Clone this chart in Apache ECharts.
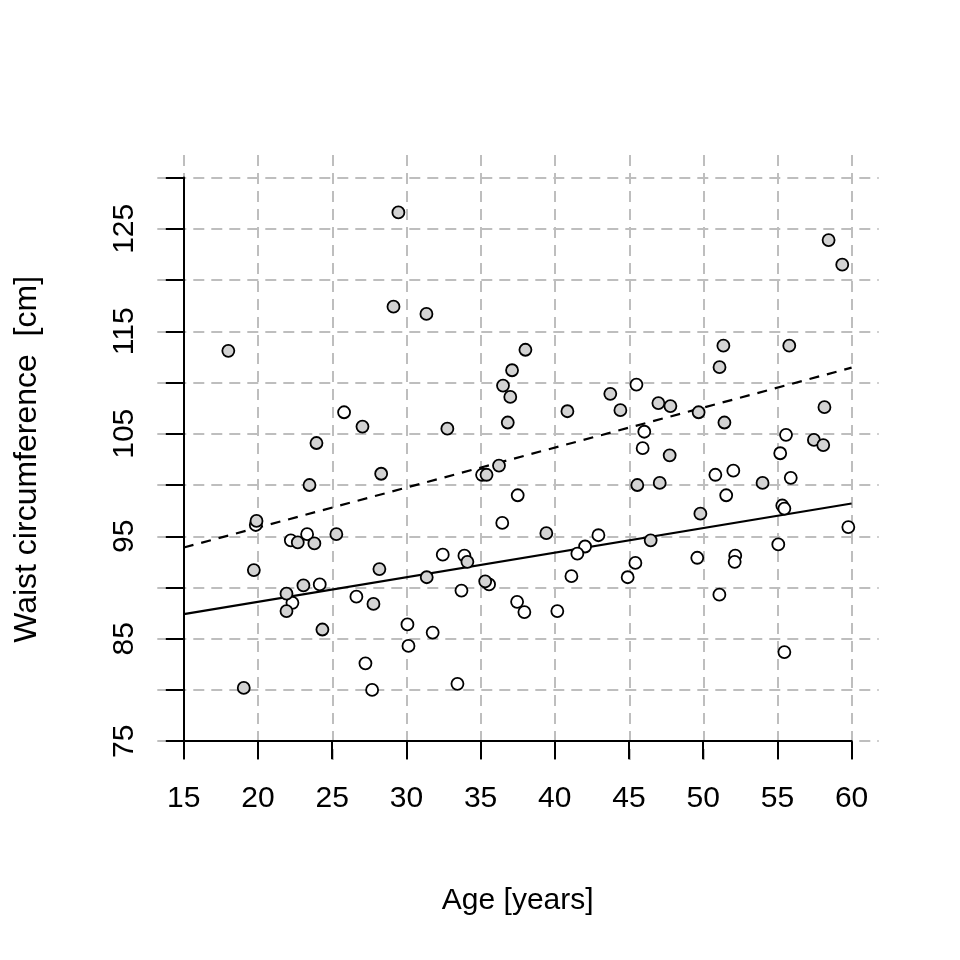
<!DOCTYPE html>
<html><head><meta charset="utf-8">
<script src="https://cdn.jsdelivr.net/npm/echarts@6/dist/echarts.min.js"></script>
<style>html,body{margin:0;padding:0;background:#fff}#c{width:960px;height:960px}</style>
</head><body><div id="c"></div>
<script>
// ---- data ----
const xTicks = [15, 20, 25, 30, 35, 40, 45, 50, 55, 60];
const yTicks = [75, 80, 85, 90, 95, 100, 105, 110, 115, 120, 125, 130];
const yLabels = [75, 85, 95, 105, 115, 125];
const xTitle = 'Age [years]';
const yTitle = 'Waist circumference  [cm]';

// grey (filled) group: [age, waist]
const groupFilled = [
  [29.46,126.6],[58.45,123.9],[59.37,121.5],[29.13,117.4],[31.35,116.7],[18.0,113.1],
  [38.02,113.2],[51.36,113.6],[55.8,113.6],[37.12,111.2],[51.1,111.5],[36.51,109.7],
  [37.0,108.6],[43.74,108.9],[40.85,107.2],[44.42,107.3],[46.98,108.0],[47.79,107.7],
  [49.69,107.1],[58.17,107.6],[27.04,105.7],[32.76,105.5],[36.83,106.1],[51.43,106.1],
  [23.94,104.1],[57.46,104.4],[58.09,103.9],[47.74,102.9],[36.24,101.9],[28.3,101.1],
  [35.4,101.0],[23.47,100.0],[45.56,100.0],[47.07,100.2],[54.0,100.2],[49.81,97.2],
  [19.9,96.5],[22.68,94.4],[23.8,94.3],[25.28,95.2],[39.43,95.3],[46.46,94.6],
  [34.11,92.5],[19.72,91.7],[28.18,91.8],[31.37,91.0],[35.31,90.6],[21.92,89.4],
  [23.06,90.2],[21.92,87.7],[27.78,88.4],[24.34,85.9],[19.04,80.2]
];
// white (open) group: [age, waist]
const groupOpen = [
  [25.8,107.1],[45.5,109.8],[46.03,105.2],[55.58,104.9],[45.92,103.6],[55.19,103.1],
  [35.1,101.0],[50.82,101.0],[52.03,101.4],[55.9,100.7],[37.5,99.0],[51.55,99.0],
  [55.33,98.0],[55.47,97.7],[19.85,96.1],[36.46,96.3],[59.78,95.9],[22.21,94.6],
  [23.31,95.2],[42.94,95.1],[42.04,94.0],[41.52,93.3],[55.06,94.2],[32.45,93.2],
  [33.91,93.1],[49.6,92.9],[52.16,93.1],[52.12,92.5],[45.43,92.4],[41.12,91.1],
  [44.91,91.0],[35.57,90.3],[24.16,90.3],[22.32,88.5],[26.63,89.1],[33.71,89.7],
  [37.46,88.6],[37.95,87.6],[40.17,87.7],[51.09,89.3],[30.07,86.4],[31.77,85.6],
  [30.14,84.3],[27.24,82.6],[33.44,80.6],[27.69,80.0],[55.47,83.7]
];
// fitted lines (end points)
const fitFilled = [[15, 93.9], [60, 111.45]];
const fitOpen = [[15, 87.4], [60, 98.2]];

// ---- chart ----
const FONT = '"Liberation Sans", Arial, sans-serif';
const chart = echarts.init(document.getElementById('c'), null, {renderer: 'canvas'});
const gridStyle = {show: true, lineStyle: {color: '#BEBEBE', width: 2, type: [11, 7]}};

chart.setOption({
  backgroundColor: '#fff',
  animation: false,
  grid: [
    {left: 157.3, right: 81.3, top: 155.05, bottom: 196.25, containLabel: false},
    {left: 183.8, right: 108.4, top: 177.6, bottom: 218.8, containLabel: false}
  ],
  xAxis: [
    {gridIndex: 0, type: 'value', min: 13.2, max: 61.8,
     axisLine: {show: false}, axisLabel: {show: false},
     axisTick: {show: false, customValues: xTicks},
     splitLine: gridStyle},
    {gridIndex: 1, type: 'value', min: 15, max: 60, interval: 5,
     axisLine: {show: true, onZero: false, lineStyle: {color: '#000', width: 2}},
     axisTick: {show: true, length: 18, inside: false, lineStyle: {color: '#000', width: 2}},
     axisLabel: {show: true, margin: 43, color: '#000', fontSize: 30, fontFamily: FONT},
     splitLine: {show: false},
     name: xTitle, nameLocation: 'middle', nameGap: 145,
     nameTextStyle: {color: '#000', fontSize: 30, fontFamily: FONT}}
  ],
  yAxis: [
    {gridIndex: 0, type: 'value', min: 72.8, max: 132.2,
     axisLine: {show: false}, axisLabel: {show: false},
     axisTick: {show: false, customValues: yTicks},
     splitLine: gridStyle},
    {gridIndex: 1, type: 'value', min: 75, max: 130, interval: 5,
     axisLine: {show: true, onZero: false, lineStyle: {color: '#000', width: 2}},
     axisTick: {show: true, length: 18, inside: false, lineStyle: {color: '#000', width: 2}},
     axisLabel: {show: true, margin: 44, rotate: 90, color: '#000', fontSize: 30, fontFamily: FONT,
       formatter: v => (yLabels.indexOf(v) >= 0 ? String(v) : '')},
     splitLine: {show: false},
     name: yTitle, nameLocation: 'middle', nameGap: 141,
     nameTextStyle: {color: '#000', fontSize: 32, fontFamily: FONT}}
  ],
  series: [
    {type: 'line', xAxisIndex: 1, yAxisIndex: 1, data: fitOpen, symbol: 'none', z: 3,
     lineStyle: {color: '#000', width: 2.2, type: 'solid'}},
    {type: 'line', xAxisIndex: 1, yAxisIndex: 1, data: fitFilled, symbol: 'none', z: 3,
     lineStyle: {color: '#000', width: 2.2, type: [10, 8]}},
    {type: 'scatter', xAxisIndex: 1, yAxisIndex: 1, data: groupOpen, symbol: 'circle', symbolSize: 12, z: 5,
     itemStyle: {color: '#FFFFFF', borderColor: '#000', borderWidth: 1.8, opacity: 1}},
    {type: 'scatter', xAxisIndex: 1, yAxisIndex: 1, data: groupFilled, symbol: 'circle', symbolSize: 12, z: 5,
     itemStyle: {color: '#D3D3D3', borderColor: '#000', borderWidth: 1.8, opacity: 1}}
  ]
});
</script></body></html>
